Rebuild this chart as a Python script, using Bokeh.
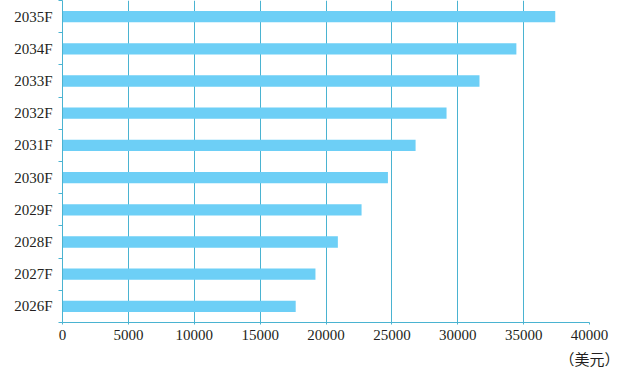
from bokeh.plotting import figure
from bokeh.models import FixedTicker, Title, Range1d
from bokeh.embed import file_html
from bokeh.resources import INLINE

years = ["2026F", "2027F", "2028F", "2029F", "2030F", "2031F", "2032F", "2033F", "2034F", "2035F"]
values = [17700, 19200, 20900, 22700, 24700, 26800, 29150, 31650, 34450, 37400]
x_ticks = [0, 5000, 10000, 15000, 20000, 25000, 30000, 35000, 40000]
unit = "（美元）"

LINE = "#4ab3d1"
BAR = "#6dcff6"
TEXT = "#231f20"

pos = list(range(len(years)))

p = figure(frame_width=527, frame_height=322, min_border_left=62, min_border_right=34,
           min_border_top=0, min_border_bottom=0,
           x_range=Range1d(0, 40000), y_range=Range1d(-0.5, len(years) - 0.5),
           output_backend="svg", toolbar_location=None)
p.outline_line_color = None
p.background_fill_color = "white"
p.border_fill_color = "white"

p.hbar(y=pos, right=values, left=0, height=0.35, color=BAR, line_color=None)

# x axis
p.xaxis.ticker = FixedTicker(ticks=x_ticks)
p.xaxis.axis_line_color = LINE
p.xaxis.major_tick_line_color = LINE
p.xaxis.major_tick_out = 2
p.xaxis.major_tick_in = 0
p.xaxis.minor_tick_line_color = None
p.xaxis.major_label_text_font = "Liberation Serif"
p.xaxis.major_label_text_font_size = "15px"
p.xaxis.major_label_text_color = TEXT
p.xaxis.major_label_standoff = 5

# y axis
p.yaxis.ticker = FixedTicker(ticks=pos, minor_ticks=[i - 0.5 for i in range(len(years) + 1)])
p.yaxis.major_label_overrides = {i: y for i, y in enumerate(years)}
p.yaxis.axis_line_color = LINE
p.yaxis.major_tick_line_color = None
p.yaxis.major_tick_out = 0
p.yaxis.major_tick_in = 0
p.yaxis.minor_tick_line_color = LINE
p.yaxis.minor_tick_out = 4
p.yaxis.minor_tick_in = 0
p.yaxis.major_label_text_font = "Liberation Serif"
p.yaxis.major_label_text_font_size = "15px"
p.yaxis.major_label_text_color = TEXT
p.yaxis.major_label_standoff = 6

p.xgrid.ticker = FixedTicker(ticks=x_ticks)
p.xgrid.grid_line_color = LINE
p.xgrid.grid_line_width = 1
p.ygrid.grid_line_color = None

p.add_layout(Title(text=unit, align="right", offset=-30, standoff=6,
                   text_font="Noto Sans CJK SC", text_font_size="15px",
                   text_font_style="normal", text_color=TEXT), "below")

open("out.html", "w").write(file_html(p, INLINE))
